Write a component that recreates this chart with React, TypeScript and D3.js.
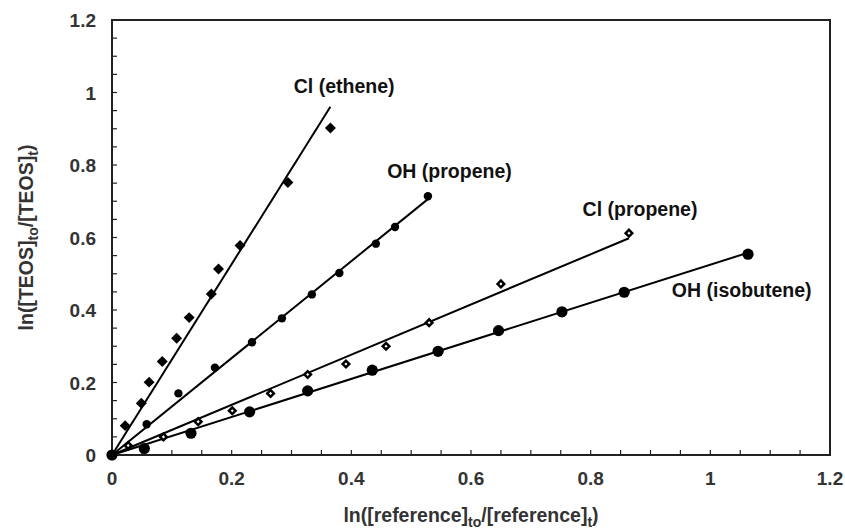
import React from "react";
import * as d3 from "d3";

// ln([reference]to/[reference]t) vs ln([TEOS]to/[TEOS]t)
const clEthene: [number, number][] = [
  [0, 0], [0.022, 0.081], [0.049, 0.143], [0.062, 0.201], [0.084, 0.258],
  [0.108, 0.322], [0.129, 0.379], [0.166, 0.444], [0.178, 0.513],
  [0.214, 0.578], [0.294, 0.752], [0.365, 0.902],
];
const ohPropene: [number, number][] = [
  [0, 0], [0.058, 0.085], [0.111, 0.17], [0.172, 0.241], [0.234, 0.311],
  [0.284, 0.377], [0.334, 0.443], [0.38, 0.502], [0.441, 0.583],
  [0.473, 0.629], [0.528, 0.714],
];
const clPropene: [number, number][] = [
  [0, 0], [0.027, 0.026], [0.086, 0.05], [0.144, 0.092], [0.201, 0.122],
  [0.265, 0.17], [0.327, 0.222], [0.391, 0.251], [0.458, 0.3],
  [0.53, 0.365], [0.65, 0.472], [0.864, 0.612],
];
const ohIsobutene: [number, number][] = [
  [0, 0], [0.054, 0.018], [0.132, 0.06], [0.23, 0.119], [0.327, 0.177],
  [0.435, 0.234], [0.545, 0.286], [0.646, 0.343], [0.752, 0.395],
  [0.856, 0.449], [1.063, 0.554],
];

const seriesNames = ["Cl (ethene)", "OH (propene)", "Cl (propene)", "OH (isobutene)"];
// label anchor (data units)
const labelX = [0.388, 0.564, 0.8825, 1.0525];
const labelY = [0.999, 0.764, 0.659, 0.437];

const xTicks = [0, 0.2, 0.4, 0.6, 0.8, 1, 1.2];
const yTicks = [0, 0.2, 0.4, 0.6, 0.8, 1, 1.2];

const W = 845;
const H = 531;
const margin = { left: 112, right: 15, top: 20, bottom: 76 };
const FONT = "'Liberation Sans', Arial, sans-serif";

// least-squares slope through origin, like an Excel trendline with intercept = 0
const slopeOf = (pts: [number, number][]) =>
  d3.sum(pts, (p) => p[0] * p[1]) / d3.sum(pts, (p) => p[0] * p[0]);

export default function App() {
  const x = d3.scaleLinear().domain([0, 1.2]).range([margin.left, W - margin.right]);
  const y = d3.scaleLinear().domain([0, 1.2]).range([H - margin.bottom, margin.top]);

  const minor = d3.range(0, 1.2001, 0.05);
  const all = [clEthene, ohPropene, clPropene, ohIsobutene];

  const line = d3
    .line<[number, number]>()
    .x((d) => x(d[0]))
    .y((d) => y(d[1]));

  const diamond = (s: number) => d3.symbol(d3.symbolSquare, s)()!;

  return (
    <svg
      width={W}
      height={H}
      style={{ position: "absolute", left: 0, top: 0, background: "#fff" }}
      fontFamily={FONT}
    >
      {/* frame */}
      <rect
        x={x(0)}
        y={y(1.2)}
        width={x(1.2) - x(0)}
        height={y(0) - y(1.2)}
        fill="none"
        stroke="#222"
        strokeWidth={2}
      />
      {/* minor ticks, inside */}
      {minor.map((t) => (
        <line key={"xt" + t} x1={x(t)} x2={x(t)} y1={y(0)} y2={y(0) - 5} stroke="#222" strokeWidth={1.2} />
      ))}
      {minor.map((t) => (
        <line key={"yt" + t} x1={x(0)} x2={x(0) + 5} y1={y(t)} y2={y(t)} stroke="#222" strokeWidth={1.2} />
      ))}
      {/* tick labels */}
      {xTicks.map((t) => (
        <text key={"xl" + t} x={x(t)} y={y(0) + 30} textAnchor="middle" fontSize={19} fontWeight="bold" fill="#333">
          {d3.format("~g")(t)}
        </text>
      ))}
      {yTicks.map((t) => (
        <text key={"yl" + t} x={96} y={y(t) + 7} textAnchor="end" fontSize={19} fontWeight="bold" fill="#333">
          {d3.format("~g")(t)}
        </text>
      ))}
      {/* axis titles */}
      <text x={(x(0) + x(1.2)) / 2} y={522} textAnchor="middle" fontSize={19.5} fontWeight="bold" fill="#333">
        ln([reference]
        <tspan fontSize={14} dy={5}>to</tspan>
        <tspan dy={-5}>/[reference]</tspan>
        <tspan fontSize={14} dy={5}>t</tspan>
        <tspan dy={-5}>)</tspan>
      </text>
      <text
        transform={`translate(33,${(y(0) + y(1.2)) / 2}) rotate(-90)`}
        textAnchor="middle"
        fontSize={19.5}
        fontWeight="bold"
        fill="#333"
      >
        ln([TEOS]
        <tspan fontSize={14} dy={5}>to</tspan>
        <tspan dy={-5}>/[TEOS]</tspan>
        <tspan fontSize={14} dy={5}>t</tspan>
        <tspan dy={-5}>)</tspan>
      </text>

      {/* trend lines */}
      {all.map((pts, i) => {
        const k = slopeOf(pts);
        const xmax = d3.max(pts, (p) => p[0])!;
        return (
          <path
            key={"tl" + i}
            d={line([[0, 0], [xmax, k * xmax]])!}
            fill="none"
            stroke="#000"
            strokeWidth={2}
          />
        );
      })}

      {/* markers */}
      {clEthene.map((p, i) => (
        <path key={"a" + i} d={diamond(60)} transform={`translate(${x(p[0])},${y(p[1])}) rotate(45)`} fill="#000" />
      ))}
      {ohPropene.map((p, i) => (
        <circle key={"b" + i} cx={x(p[0])} cy={y(p[1])} r={4.2} fill="#000" />
      ))}
      {clPropene.map((p, i) => (
        <path
          key={"c" + i}
          d={diamond(22)}
          transform={`translate(${x(p[0])},${y(p[1])}) rotate(45)`}
          fill="#fff"
          stroke="#000"
          strokeWidth={2.5}
        />
      ))}
      {ohIsobutene.map((p, i) => (
        <circle key={"d" + i} cx={x(p[0])} cy={y(p[1])} r={5.6} fill="#000" />
      ))}

      {/* series labels */}
      {seriesNames.map((s, i) => (
        <text
          key={"lab" + i}
          x={x(labelX[i])}
          y={y(labelY[i])}
          textAnchor="middle"
          fontSize={19.5}
          fontWeight="bold"
          fill="#111"
        >
          {s}
        </text>
      ))}
    </svg>
  );
}
